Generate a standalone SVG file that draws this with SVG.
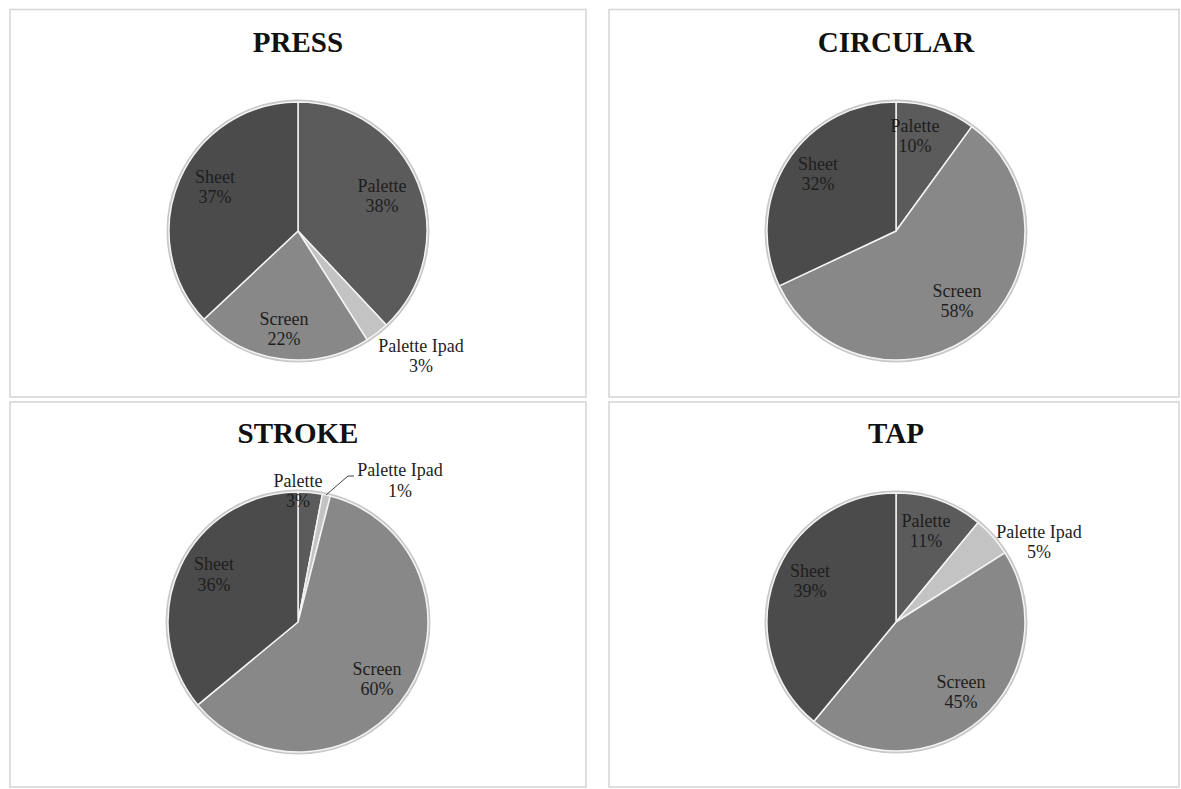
<svg xmlns="http://www.w3.org/2000/svg" width="1181" height="789" viewBox="0 0 1181 789">
<style>
.panel{fill:#ffffff;stroke:#d4d4d4;stroke-width:1.5}
.title{font-family:"Liberation Serif","DejaVu Serif",serif;font-weight:bold;font-size:29px;fill:#111111;text-anchor:middle}
.lbl{font-family:"Liberation Serif","DejaVu Serif",serif;font-size:18px;fill:#1e1e1e;text-anchor:middle}
.rim{fill:none;stroke:#c8c8c8;stroke-width:3}
.sl{stroke:#f4f4f4;stroke-width:1.5;stroke-linejoin:round}
.sheet{fill:#4b4b4b}
.pal{fill:#5b5b5b}
.scr{fill:#888888}
.ipad{fill:#c3c3c3}
.lead{fill:none;stroke:#444444;stroke-width:1}
</style>
<rect width="1181" height="789" fill="#ffffff"/>

<g id="press">
<rect class="panel" x="10" y="9.5" width="576" height="387.5"/>
<text class="title" x="298" y="52">PRESS</text>
<circle class="rim" cx="298" cy="231" r="130"/>
<path class="sl pal" d="M298,231 L298,102 A129,129 0 0 1 386.30,325.04 Z"/>
<path class="sl ipad" d="M298,231 L386.30,325.04 A129,129 0 0 1 367.12,339.91 Z"/>
<path class="sl scr" d="M298,231 L367.12,339.91 A129,129 0 0 1 203.96,319.30 Z"/>
<path class="sl sheet" d="M298,231 L203.96,319.30 A129,129 0 0 1 298,102 Z"/>
<text class="lbl" x="382" y="192">Palette</text>
<text class="lbl" x="382" y="212">38%</text>
<text class="lbl" x="215" y="183">Sheet</text>
<text class="lbl" x="215" y="203">37%</text>
<text class="lbl" x="284" y="325">Screen</text>
<text class="lbl" x="284" y="345">22%</text>
<text class="lbl" x="421" y="352">Palette Ipad</text>
<text class="lbl" x="421" y="372">3%</text>
</g>

<g id="circular">
<rect class="panel" x="609" y="9.5" width="570" height="387.5"/>
<text class="title" x="896" y="52">CIRCULAR</text>
<circle class="rim" cx="896" cy="231" r="130"/>
<path class="sl pal" d="M896,231 L896,102 A129,129 0 0 1 971.83,126.64 Z"/>
<path class="sl scr" d="M896,231 L971.83,126.64 A129,129 0 1 1 779.28,285.93 Z"/>
<path class="sl sheet" d="M896,231 L779.28,285.93 A129,129 0 0 1 896,102 Z"/>
<text class="lbl" x="915" y="132">Palette</text>
<text class="lbl" x="915" y="152">10%</text>
<text class="lbl" x="818" y="170">Sheet</text>
<text class="lbl" x="818" y="190">32%</text>
<text class="lbl" x="957" y="297">Screen</text>
<text class="lbl" x="957" y="317">58%</text>
</g>

<g id="stroke">
<rect class="panel" x="10" y="402" width="576" height="385"/>
<text class="title" x="298" y="443">STROKE</text>
<circle class="rim" cx="298" cy="622" r="131"/>
<path class="sl pal" d="M298,622 L298,492 A130,130 0 0 1 322.36,494.30 Z"/>
<path class="sl ipad" d="M298,622 L322.36,494.30 A130,130 0 0 1 330.33,496.08 Z"/>
<path class="sl scr" d="M298,622 L330.33,496.08 A130,130 0 1 1 197.83,704.86 Z"/>
<path class="sl sheet" d="M298,622 L197.83,704.86 A130,130 0 0 1 298,492 Z"/>
<text class="lbl" x="298" y="487">Palette</text>
<text class="lbl" x="298" y="507">3%</text>
<text class="lbl" x="400" y="476">Palette Ipad</text>
<text class="lbl" x="400" y="497">1%</text>
<text class="lbl" x="214" y="570">Sheet</text>
<text class="lbl" x="214" y="591">36%</text>
<text class="lbl" x="377" y="675">Screen</text>
<text class="lbl" x="377" y="695">60%</text>
</g>

<g id="tap">
<rect class="panel" x="609" y="402" width="570" height="385"/>
<text class="title" x="896" y="443">TAP</text>
<circle class="rim" cx="896" cy="622" r="130"/>
<path class="sl pal" d="M896,622 L896,493 A129,129 0 0 1 978.22,522.60 Z"/>
<path class="sl ipad" d="M896,622 L978.22,522.60 A129,129 0 0 1 1004.91,552.88 Z"/>
<path class="sl scr" d="M896,622 L1004.91,552.88 A129,129 0 0 1 813.78,721.40 Z"/>
<path class="sl sheet" d="M896,622 L813.78,721.40 A129,129 0 0 1 896,493 Z"/>
<text class="lbl" x="926" y="527">Palette</text>
<text class="lbl" x="926" y="547">11%</text>
<text class="lbl" x="1039" y="538">Palette Ipad</text>
<text class="lbl" x="1039" y="558">5%</text>
<text class="lbl" x="810" y="577">Sheet</text>
<text class="lbl" x="810" y="597">39%</text>
<text class="lbl" x="961" y="688">Screen</text>
<text class="lbl" x="961" y="708">45%</text>
</g>

<g id="connectors">
<polyline class="lead" points="326,495 348,476 354,476"/>
</g>
</svg>
